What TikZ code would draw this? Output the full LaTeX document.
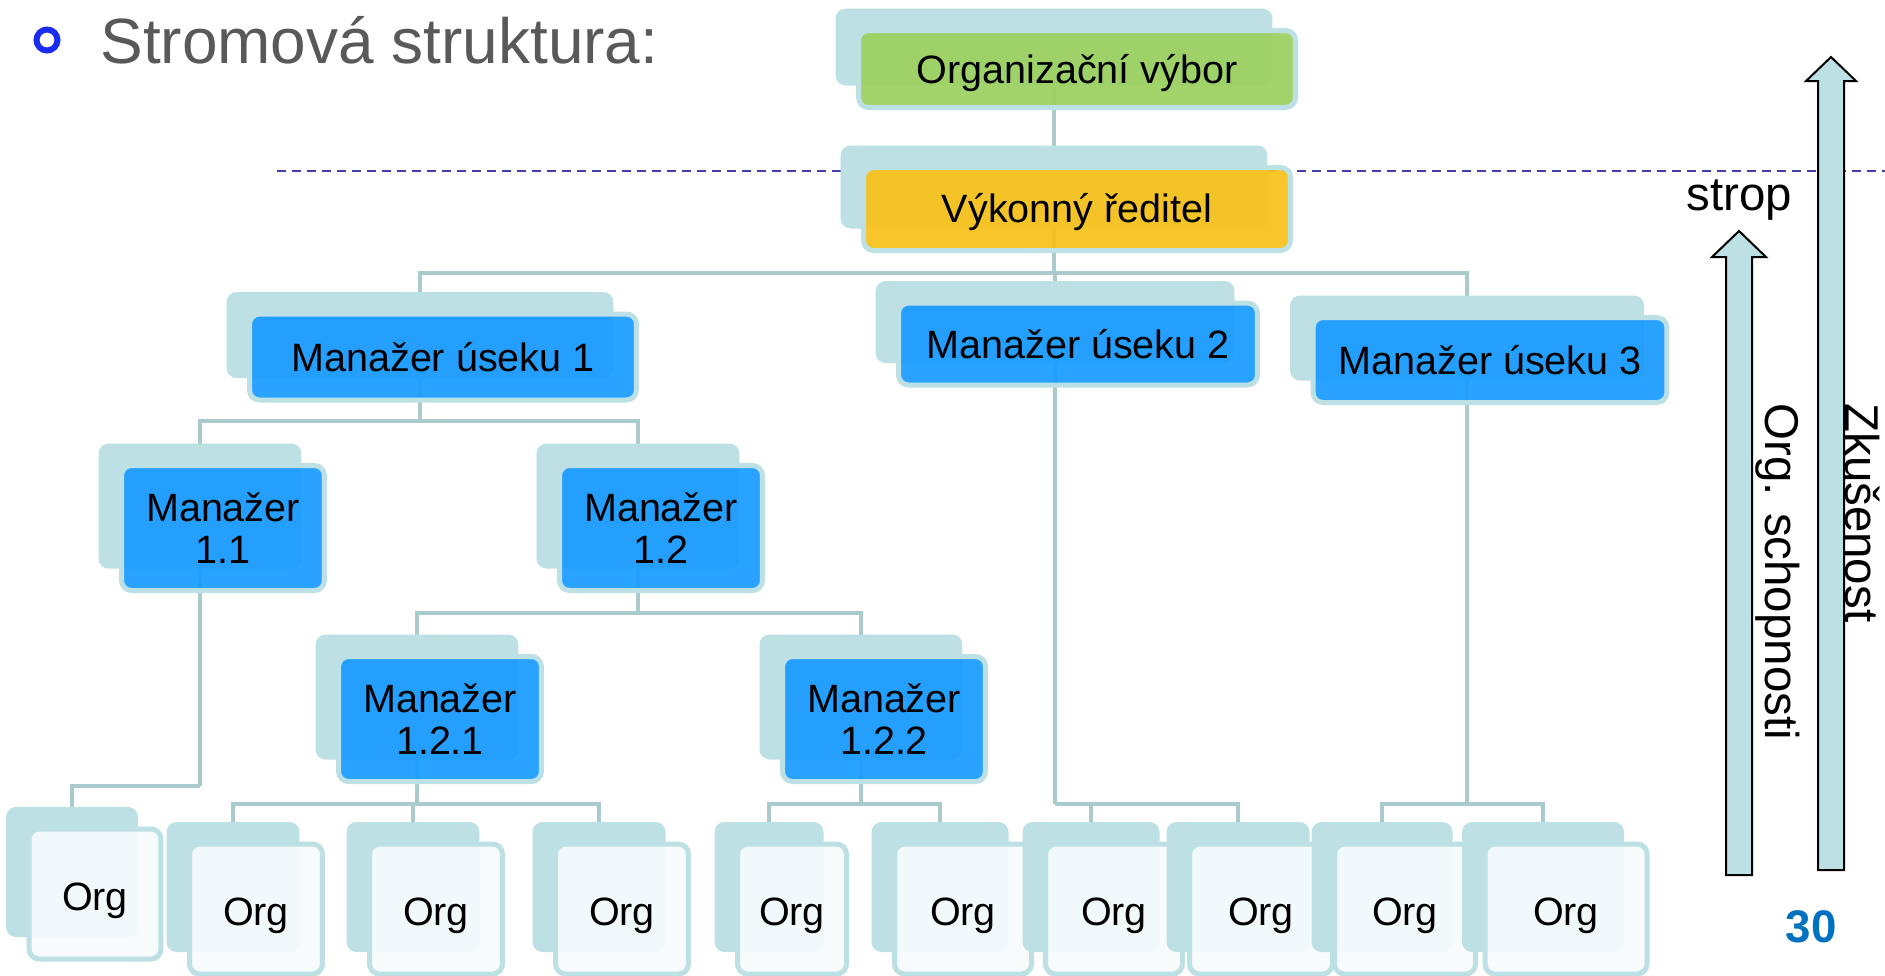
\documentclass[tikz,border=0pt]{standalone}
\usepackage{fontspec}
\setmainfont{Liberation Sans}
\usetikzlibrary{calc, positioning, shadows, backgrounds}
\definecolor{boxcyan}{HTML}{BCE0E3}
\definecolor{linecyan}{HTML}{A9CBCE}
\definecolor{boxgreen}{HTML}{9CD160}
\definecolor{boxorange}{HTML}{F8C11A}
\definecolor{boxblue}{HTML}{1A9BFF}
\definecolor{orgwhite}{HTML}{F7FBFC}
\definecolor{ceiling}{HTML}{4040A8}
\definecolor{titlegray}{HTML}{595959}
\definecolor{bulletblue}{HTML}{1A2CF0}
\definecolor{pagenum}{HTML}{0070C0}

\begin{document}
\begin{tikzpicture}[x=0.02cm, y=-0.02cm]%{{{
        \useasboundingbox (0,0) rectangle (1885,975);

        \tikzstyle{b} = [draw=boxcyan, line width=0.1cm, rounded corners=0.2cm,
            fill opacity=0.93, text opacity=1, inner sep=0, align=center,
            font=\fontsize{22.5}{24}\selectfont,
            general shadow={fill=boxcyan, fill opacity=1, shadow xshift=-0.46cm, shadow yshift=0.44cm}];
        \tikzstyle{gb} = [b, fill=boxgreen, text height=20.7pt, text depth=4.7pt];
        \tikzstyle{ob} = [b, fill=boxorange, text height=20.2pt, text depth=4.7pt];
        \tikzstyle{mb} = [b, fill=boxblue];
        \tikzstyle{mm} = [mb, minimum width=4.06cm, minimum height=2.5cm];
        \tikzstyle{org} = [b, fill=orgwhite, minimum height=2.6cm, text height=23.2pt, text depth=4.7pt];
        \tikzstyle{conn} = [draw=linecyan, line width=0.09cm];
        \tikzstyle{ceil} = [draw=ceiling, line width=0.04cm, dash pattern=on 0.18cm off 0.12cm];
        \tikzstyle{up} = [draw=black, line width=0.04cm, fill=boxcyan];
        \tikzstyle{side} = [inner sep=0, font=\fontsize{27}{32}\selectfont];

        % title
        \node [circle, draw=bulletblue, line width=0.12cm, minimum size=0.42cm, inner sep=0] (dot) at (47,40) { };
        \node [anchor=base west, inner sep=0, text=titlegray, font=\fontsize{36.4}{43}\selectfont] (title) at (100,63) {Stromová struktura:};

        % top of the tree
        \node [gb, minimum width=8.74cm, minimum height=1.54cm] (ov) at (1077,69) {Organizační výbor};
        \node [ob, minimum width=8.54cm, minimum height=1.66cm] (vr) at (1077,209) {Výkonný ředitel};

        \node [mb, minimum width=7.74cm, minimum height=1.72cm] (m1) at (443,357) {Manažer úseku 1};
        \node [mb, minimum width=7.18cm, minimum height=1.64cm] (m2) at (1078,344) {Manažer úseku 2};
        \node [mb, minimum width=7.08cm, minimum height=1.70cm] (m3) at (1490,360) {Manažer úseku 3};

        \node [mm] (m11)  at (223,528) {Manažer\\1.1};
        \node [mm] (m12)  at (661,528) {Manažer\\1.2};
        \node [mm] (m121) at (440,719) {Manažer\\1.2.1};
        \node [mm] (m122) at (884,719) {Manažer\\1.2.2};

        % bottom row
        \foreach \n/\x/\y/\w in {1/95/894/2.64, 2/256/909/2.66, 3/436/909/2.66, 4/622/909/2.66,
                                 5/792/909/2.18, 6/963/909/2.74, 7/1114/909/2.74, 8/1261/909/2.86,
                                 9/1405/909/2.82, 10/1566/909/3.24}{
            \node [org, minimum width=\w cm] (o\n) at (\x,\y) {Org};
        }

        % centres of the back plates
        \foreach \n in {ov, vr, m1, m2, m3, m11, m12, m121, m122, o1, o2, o3, o4, o5, o6, o7, o8, o9, o10}{
            \coordinate (\n s) at ([xshift=-0.46cm]\n.center);
        }

        \begin{pgfonlayer}{background}
            \draw [ceil] (277,171) -- (1885,171);
            \draw [conn] (ovs) -- (vrs);
            \foreach \p/\yb/\cs in {vr/273/{m1,m2,m3}, m1/421/{m11,m12}, m11/786/{o1},
                                    m12/613/{m121,m122}, m121/804/{o2,o3,o4}, m122/804/{o5,o6},
                                    m2/804/{o7,o8}, m3/804/{o9,o10}}{
                \coordinate (\p j) at (\p s |- 0,\yb);
                \draw [conn] (\p s) -- (\p j);
                \foreach \c in \cs{
                    \draw [conn] (\p j) -| (\c s);
                }
            }
        \end{pgfonlayer}

        % arrows on the right
        \draw [up] (1726,875) -- (1726,257) -- (1712,257) -- (1739,231) -- (1766,257)
            -- (1752,257) -- (1752,875) -- cycle;
        \draw [up] (1818,870) -- (1818,81) -- (1806,81) -- (1831,57) -- (1856,81)
            -- (1844,81) -- (1844,870) -- cycle;

        \node [side, anchor=base west] (strop) at (1686,210) {strop};
        \node [side, rotate=-90, anchor=west] (schop) at (1778,403) {Org. schopnosti};
        \node [side, rotate=-90, anchor=west] (zkus) at (1863,403) {Zkušenost};
        \node [inner sep=0, text=pagenum, font=\bfseries\fontsize{26}{30}\selectfont] (pg) at (1811,927) {30};
    \end{tikzpicture}
\end{document}
